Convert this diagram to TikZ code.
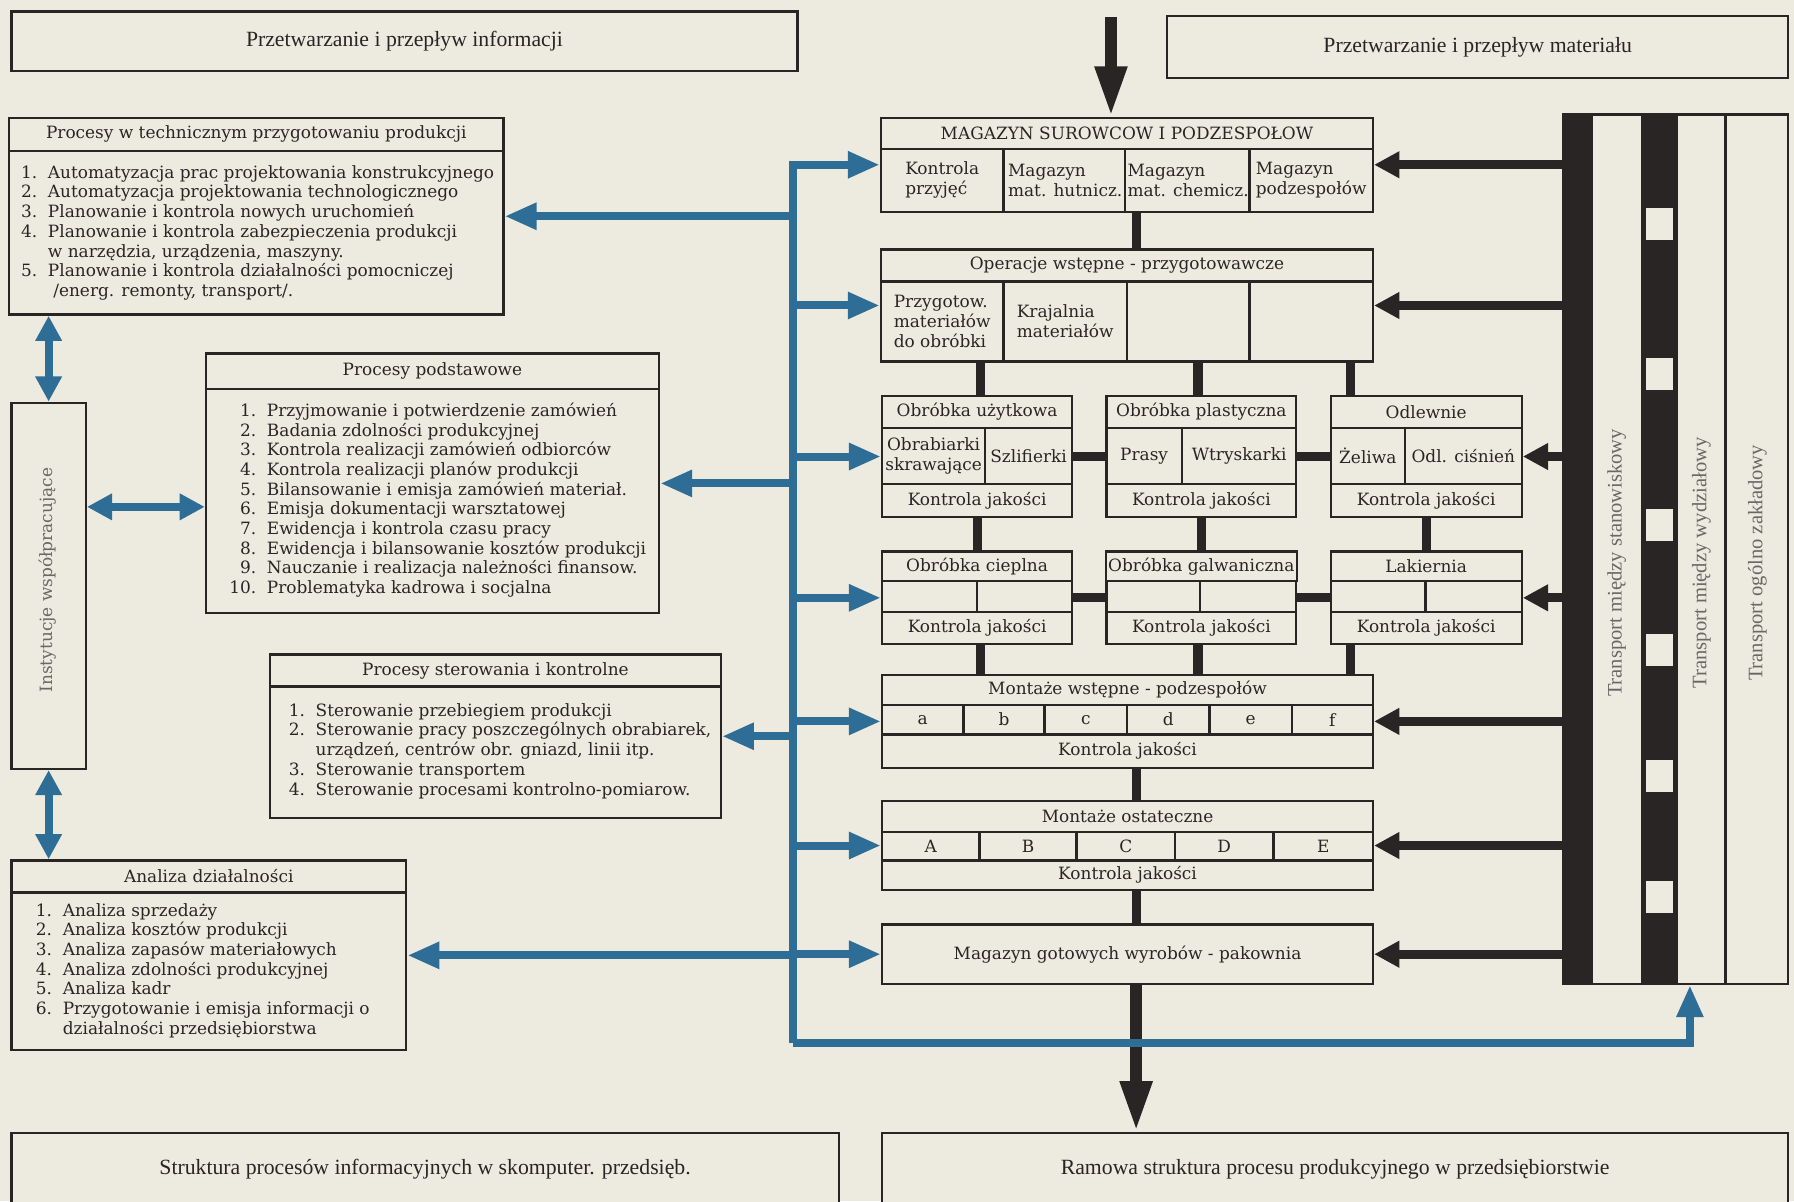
\documentclass[tikz,border=0pt]{standalone}
\usepackage{fontspec}
\setmainfont{DejaVu Serif}
\newfontfamily\titlefont{Liberation Serif}
\usetikzlibrary{arrows.meta}

\definecolor{paper}{RGB}{237,234,223}
\definecolor{ink}{RGB}{42,37,37}
\definecolor{flow}{RGB}{46,110,150}

\newcommand{\boxfont}{\fontsize{7.4}{8.6}\selectfont}
% box from corner (x1,y1) to (x2,y2), in picture units
\newcommand{\cellbox}[7][]{%
  \pgfmathsetmacro{\cbw}{(#5-#3)/2}%
  \pgfmathsetmacro{\cbh}{(#6-#4)/2}%
  \node[cell,minimum width=\cbw pt,minimum height=\cbh pt,#1] (#2) at ({(#3+#5)/2},{(#4+#6)/2}) {#7};}

\tikzset{
  cell/.style={draw=ink, line width=1pt, fill=paper, inner sep=1pt, align=center, font=\boxfont, text=ink},
  titlebox/.style={font=\titlefont\fontsize{9.5}{11}\selectfont},
  sidetext/.style={rotate=90, inner sep=0pt, text=ink!70, font=\titlefont\fontsize{9}{11}\selectfont},
  list/.style={anchor=west, inner sep=0pt, font=\boxfont, text=ink},
  info/.style={flow, line width=3.5pt, -{Triangle[length=14pt,width=11pt]}},
  infoboth/.style={info, {Triangle[length=11pt,width=11pt]}-{Triangle[length=11pt,width=11pt]}},
  goods/.style={ink, line width=4pt, -{Triangle[length=11pt,width=11pt]}},
  link/.style={ink, line width=4pt},
  feed/.style={ink, line width=5pt, -{Triangle[length=22pt,width=13pt]}},
}

\begin{document}
\begin{tikzpicture}[x=0.5pt, y=-0.5pt]
  \useasboundingbox (0,0) rectangle (1568,1050);
  \fill[paper] (0,0) rectangle (1568,1050);

  % titles
  \cellbox[titlebox]{ti}{10}{10}{697}{62}{Przetwarzanie i przepływ informacji}
  \cellbox[titlebox]{tm}{1020}{14}{1563}{68}{Przetwarzanie i przepływ materiału}
  \cellbox[titlebox]{bi}{10}{990}{733}{1054}{Struktura procesów informacyjnych w skomputer. przedsięb.}
  \cellbox[titlebox]{bm}{771}{990}{1563}{1054}{Ramowa struktura procesu produkcyjnego w przedsiębiorstwie}

  % information processes
  \cellbox{tp}{8}{103}{440}{275}{}
  \cellbox{tp-h}{8}{103}{440}{132}{Procesy w technicznym przygotowaniu produkcji}
  \node[list] (tp-l) at (18,204) {\begin{tabular}{@{}r@{\ \ }l@{}}
    1. & Automatyzacja prac projektowania konstrukcyjnego\\
    2. & Automatyzacja projektowania technologicznego\\
    3. & Planowanie i kontrola nowych uruchomień\\
    4. & Planowanie i kontrola zabezpieczenia produkcji\\
       & w narzędzia, urządzenia, maszyny.\\
    5. & Planowanie i kontrola działalności pomocniczej\\
       & \ /energ. remonty, transport/.
  \end{tabular}};

  \cellbox{inst}{10}{352}{75}{672}{}
  \node[rotate=90, font=\boxfont, text=ink!70] (inst-t) at (42,507) {Instytucje współpracujące};

  \cellbox{pp}{180}{309}{576}{536}{}
  \cellbox{pp-h}{180}{309}{576}{340}{Procesy podstawowe}
  \node[list] (pp-l) at (200,438) {\begin{tabular}{@{}r@{\ \ }l@{}}
    1. & Przyjmowanie i potwierdzenie zamówień\\
    2. & Badania zdolności produkcyjnej\\
    3. & Kontrola realizacji zamówień odbiorców\\
    4. & Kontrola realizacji planów produkcji\\
    5. & Bilansowanie i emisja zamówień materiał.\\
    6. & Emisja dokumentacji warsztatowej\\
    7. & Ewidencja i kontrola czasu pracy\\
    8. & Ewidencja i bilansowanie kosztów produkcji\\
    9. & Nauczanie i realizacja należności finansow.\\
    10. & Problematyka kadrowa i socjalna
  \end{tabular}};

  \cellbox{ps}{236}{572}{630}{715}{}
  \cellbox{ps-h}{236}{572}{630}{600}{Procesy sterowania i kontrolne}
  \node[list] (ps-l) at (252,657) {\begin{tabular}{@{}r@{\ \ }l@{}}
    1. & Sterowanie przebiegiem produkcji\\
    2. & Sterowanie pracy poszczególnych obrabiarek,\\
       & urządzeń, centrów obr. gniazd, linii itp.\\
    3. & Sterowanie transportem\\
    4. & Sterowanie procesami kontrolno-pomiarow.
  \end{tabular}};

  \cellbox{ad}{10}{752}{355}{918}{}
  \cellbox{ad-h}{10}{752}{355}{780}{Analiza działalności}
  \node[list] (ad-l) at (31,849) {\begin{tabular}{@{}r@{\ \ }l@{}}
    1. & Analiza sprzedaży\\
    2. & Analiza kosztów produkcji\\
    3. & Analiza zapasów materiałowych\\
    4. & Analiza zdolności produkcyjnej\\
    5. & Analiza kadr\\
    6. & Przygotowanie i emisja informacji o\\
       & działalności przedsiębiorstwa
  \end{tabular}};

  % production side
  \cellbox{mag}{770}{103}{1200}{185}{}
  \cellbox{mag-h}{770}{103}{1200}{130}{MAGAZYN SUROWCOW I PODZESPOŁOW}
  \foreach \xa/\xb/\txt [count=\i] in {770/877/{Kontrola\\przyjęć}, 877/985/{Magazyn\\mat. hutnicz.}, 985/1092/{Magazyn\\mat. chemicz.}, 1092/1200/{Magazyn\\podzespołów}}{
    \cellbox[align=left]{mag-\i}{\xa}{130}{\xb}{185}{\txt}
  }

  \cellbox{ope}{770}{218}{1200}{316}{}
  \cellbox{ope-h}{770}{218}{1200}{246}{Operacje wstępne - przygotowawcze}
  \foreach \xa/\xb/\txt [count=\i] in {770/877/{Przygotow.\\materiałów\\do obróbki}, 877/985/{Krajalnia\\materiałów}, 985/1092/{}, 1092/1200/{}}{
    \cellbox[align=left]{ope-\i}{\xa}{246}{\xb}{316}{\txt}
  }

  \foreach \nm/\xa/\xs/\xb/\hd/\ca/\cb in {ou/771/861/937/{Obróbka użytkowa}/{Obrabiarki\\skrawające}/Szlifierki, op/967/1033/1133/{Obróbka plastyczna}/Prasy/Wtryskarki, od/1163/1228/1330/Odlewnie/Żeliwa/{Odl. ciśnień}}{
    \cellbox{\nm}{\xa}{346}{\xb}{452}{}
    \cellbox{\nm-h}{\xa}{346}{\xb}{374}{\hd}
    \cellbox{\nm-a}{\xa}{374}{\xs}{423}{\ca}
    \cellbox{\nm-b}{\xs}{374}{\xb}{423}{\cb}
    \cellbox{\nm-k}{\xa}{423}{\xb}{452}{Kontrola jakości}
  }
  \foreach \nm/\xa/\xs/\xb/\hd in {oc/771/854/937/{Obróbka cieplna}, og/967/1049/1133/{Obróbka galwaniczna}, la/1163/1246/1330/Lakiernia}{
    \cellbox{\nm}{\xa}{482}{\xb}{563}{}
    \cellbox{\nm-h}{\xa}{482}{\xb}{508}{\hd}
    \cellbox{\nm-a}{\xa}{508}{\xs}{535}{}
    \cellbox{\nm-b}{\xs}{508}{\xb}{535}{}
    \cellbox{\nm-k}{\xa}{535}{\xb}{563}{Kontrola jakości}
  }

  \cellbox{mw}{771}{590}{1200}{671}{}
  \cellbox{mw-h}{771}{590}{1200}{616}{Montaże wstępne - podzespołów}
  \foreach \xa/\xb/\txt in {771/842/a, 842/913/b, 913/985/c, 985/1057/d, 1057/1129/e, 1129/1200/f}{
    \cellbox{mw-\txt}{\xa}{616}{\xb}{642}{\txt}
  }
  \cellbox{mw-k}{771}{642}{1200}{671}{Kontrola jakości}

  \cellbox{mo}{771}{700}{1200}{778}{}
  \cellbox{mo-h}{771}{700}{1200}{727}{Montaże ostateczne}
  \foreach \xa/\xb/\txt in {771/856/A, 856/941/B, 941/1027/C, 1027/1113/D, 1113/1200/E}{
    \cellbox{mo-\txt}{\xa}{727}{\xb}{752}{\txt}
  }
  \cellbox{mo-k}{771}{752}{1200}{778}{Kontrola jakości}

  \cellbox{mg}{771}{808}{1200}{860}{Magazyn gotowych wyrobów - pakownia}

  % transport
  \cellbox[fill=ink]{tb1}{1366}{100}{1391}{860}{}
  \cellbox{ts}{1391}{100}{1435}{860}{}
  \cellbox[fill=ink]{tb2}{1435}{100}{1466}{860}{}
  \foreach \ya in {182,313,445,554,664,770}{
    \fill[paper] (1439,\ya) rectangle (1462,\ya+28);
  }
  \cellbox{tw}{1466}{100}{1508}{860}{}
  \cellbox{tz}{1508}{100}{1563}{860}{}
  \node[sidetext] (ts-t) at (1413,492) {Transport między stanowiskowy};
  \node[sidetext] (tw-t) at (1487,492) {Transport między wydziałowy};
  \node[sidetext] (tz-t) at (1536,492) {Transport ogólno zakładowy};

  % material flow
  \coordinate (spine) at (993,0);
  \coordinate (inlet) at (971,15);
  \draw[feed] (inlet) -- (inlet |- mag.north);
  \draw[link] (mag.south -| spine) -- (ope.north -| spine);
  \foreach \xc/\nm in {857/ou, 1047/op, 1180/od}{
    \draw[link] (ope.south -| \xc,0) -- (\nm.north -| \xc,0);
  }
  \draw[link] (ou.east) -- (op.west);
  \draw[link] (op.east) -- (od.west);
  \foreach \a/\b in {ou/oc, op/og, od/la}{
    \draw[link] (\a.south) -- (\b.north);
  }
  \draw[link] (oc.east) -- (og.west);
  \draw[link] (og.east) -- (la.west);
  \foreach \xc/\nm in {857/oc, 1047/og, 1180/la}{
    \draw[link] (\nm.south -| \xc,0) -- (mw.north -| \xc,0);
  }
  \draw[link] (mw.south -| spine) -- (mo.north -| spine);
  \draw[link] (mo.south -| spine) -- (mg.north -| spine);
  \draw[feed] (mg.south -| spine) -- (spine |- bm.north);
  \foreach \nm in {mag, ope, od, la, mw, mo, mg}{
    \draw[goods] (tb1.west |- \nm.east) -- (\nm.east);
  }

  % information flow
  \coordinate (bus) at (693,912);
  \coordinate (rise) at (1477,912);
  \draw[info] (bus) -- (bus |- mag.west) -- (mag.west);
  \foreach \nm in {ope, ou, oc, mw, mo, mg}{
    \draw[info] (bus |- \nm.west) -- (\nm.west);
  }
  \foreach \nm in {tp, pp, ps, ad}{
    \draw[info] (bus |- \nm.east) -- (\nm.east);
  }
  \draw[info] (bus) -- (rise) -- (rise |- tw.south);
  \draw[infoboth] (tp.south -| inst.north) -- (inst.north);
  \draw[infoboth] (inst.east |- 0,443) -- (pp.west |- 0,443);
  \draw[infoboth] (inst.south) -- (inst.south |- ad.north);
\end{tikzpicture}
\end{document}
